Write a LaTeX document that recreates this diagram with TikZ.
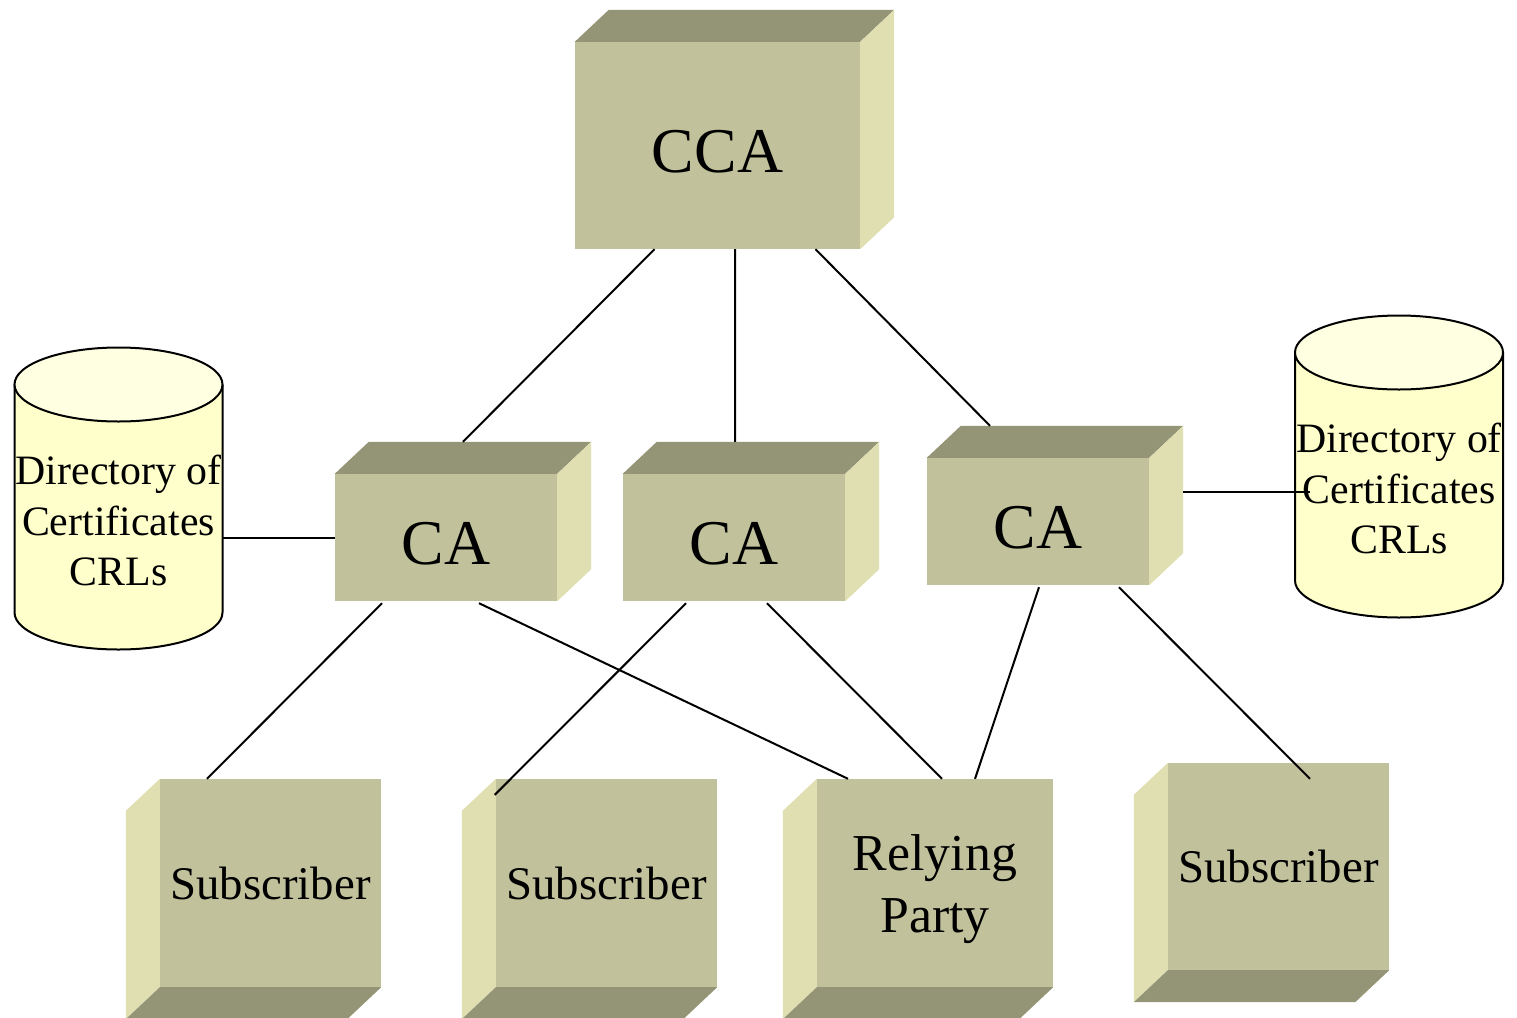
\documentclass[tikz,border=0pt]{standalone}
\usepackage{fontspec}
\setmainfont{Liberation Serif}
\usetikzlibrary{calc}

\definecolor{blockfront}{RGB}{193,193,156}
\definecolor{blockdark}{RGB}{148,148,118}
\definecolor{blocklight}{RGB}{223,223,177}
\definecolor{drumbody}{RGB}{255,255,204}
\definecolor{drumtop}{RGB}{255,255,226}

% top and right faces of an upper block
\newcommand{\raisedblock}[1]{%
  \fill[blockdark] (#1.north west) -- ++(34,-32) -- ($(#1.north east)+(34,-32)$) -- (#1.north east) -- cycle;
  \fill[blocklight] (#1.north east) -- ++(34,-32) -- ($(#1.south east)+(34,-32)$) -- (#1.south east) -- cycle;}
% left and bottom faces of a lower block
\newcommand{\lowblock}[1]{%
  \fill[blocklight] (#1.north west) -- ++(-34,32) -- ($(#1.south west)+(-34,32)$) -- (#1.south west) -- cycle;
  \fill[blockdark] (#1.south west) -- ++(-34,32) -- ($(#1.south east)+(-34,32)$) -- (#1.south east) -- cycle;}
% directory drum
\newcommand{\drawdrum}[1]{%
  \begin{scope}[shift={(#1.center)}]
    \fill[drumbody] (-104,-114) rectangle (104,114);
    \fill[drumbody] (0,114) ellipse [x radius=104, y radius=37];
    \draw[wire] (-104,-114) -- (-104,114) arc[start angle=180, end angle=0, x radius=104, y radius=37] -- (104,-114);
    \draw[wire,fill=drumtop] (0,-114) ellipse [x radius=104, y radius=37];
  \end{scope}}

\begin{document}
\begin{tikzpicture}[x=1bp,y=-1bp,
  wire/.style={line width=2bp},
  block/.style 2 args={rectangle, fill=blockfront, inner sep=0pt, align=center,
    minimum width=#1bp, minimum height=#2bp},
  drum/.style={rectangle, inner sep=0pt, minimum width=208bp, minimum height=303bp},
  drumtext/.style={align=center, inner sep=0pt, font=\fontsize{42}{51}\selectfont},
  bigfont/.style={font=\fontsize{64}{70}\selectfont, text height=54bp, text depth=0bp},
  subfont/.style={font=\fontsize{47}{56}\selectfont},
  rpfont/.style={font=\fontsize{52}{63}\selectfont, align=center, inner sep=0pt, yshift=-6bp}]

\clip (0,0) rectangle (1517,1017);

% blocks
\node[block={285}{207},bigfont] (cca) at (717.5,145.5) {CCA};
\raisedblock{cca}

\node[block={222}{127},bigfont] (ca1) at (446,537.5) {CA};
\raisedblock{ca1}
\node[block={222}{127},bigfont] (ca2) at (734,537.5) {CA};
\raisedblock{ca2}
\node[block={222}{127},bigfont] (ca3) at (1038,521.5) {CA};
\raisedblock{ca3}

\node[block={221}{208},subfont] (sub1) at (270.5,883) {Subscriber};
\lowblock{sub1}
\node[block={221}{208},subfont] (sub2) at (606.5,883) {Subscriber};
\lowblock{sub2}
\node[block={236}{208},label={[rpfont]center:Relying\\Party}] (rp) at (935,883) {};
\lowblock{rp}
\node[block={221}{207},subfont] (sub3) at (1278.5,866.5) {Subscriber};
\lowblock{sub3}

% directories
\node[drum] (dirl) at (118.5,498.5) {};
\drawdrum{dirl}
\node[drumtext] (dirltext) at ($(dirl.center)+(0,22)$) {Directory of\\Certificates\\CRLs};

\node[drum] (dirr) at (1399,466.5) {};
\drawdrum{dirr}
\node[drumtext] (dirrtext) at ($(dirr.center)+(0,22)$) {Directory of\\Certificates\\CRLs};

% links
\draw[wire] ($(cca.south)+(-63,0)$) -- ($(ca1.north)+(17,-32)$);
\draw[wire] ($(cca.south)+(17.5,0)$) -- ($(ca2.north)+(1,-32)$);
\draw[wire] ($(cca.south)+(98,0)$) -- ($(ca3.north)+(-48,-32)$);

\draw[wire] (ca1.west) -- (ca1.west -| dirl.east);
\draw[wire] ($(ca3.east)+(34,-30)$) -- ($(dirr.west)+(15,25)$);

\draw[wire] ($(ca1.south)+(-64,2)$) -- ($(sub1.north)+(-63.5,0)$);
\draw[wire] ($(ca1.south)+(33,2)$) -- ($(rp.north)+(-87,0)$);
\draw[wire] ($(ca2.south)+(-48,2)$) -- ($(sub2.north west)+(-1,16)$);
\draw[wire] ($(ca2.south)+(33,2)$) -- ($(rp.north)+(7,0)$);
\draw[wire] ($(ca3.south)+(1,2)$) -- ($(rp.north)+(40,0)$);
\draw[wire] ($(ca3.south)+(81,2)$) -- ($(sub3.north)+(31.5,16)$);

\end{tikzpicture}
\end{document}
